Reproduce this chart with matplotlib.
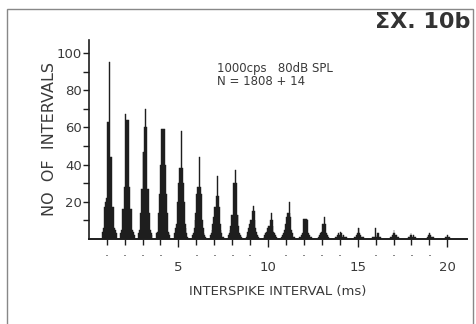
import matplotlib
matplotlib.use('Agg')
import matplotlib.pyplot as plt
import numpy as np
from matplotlib.patches import Rectangle
from matplotlib.ticker import FixedLocator, FixedFormatter

# interval histogram, 0.05 ms bins grouped around each period (1 ms)
periods = list(range(1, 21))
bin_offsets = [-0.25, -0.20, -0.15, -0.10, -0.05, 0.00, 0.05, 0.10,
               0.15, 0.20, 0.25, 0.30, 0.35, 0.40, 0.45, 0.50]
bin_width = 0.05

counts = [
    [4, 6, 17, 20, 22, 63, 63, 63, 95, 44, 44, 17, 17, 6, 5, 3],
    [3, 5, 16, 16, 28, 67, 64, 64, 64, 64, 28, 16, 16, 5, 4, 2],
    [3, 5, 14, 27, 27, 47, 47, 60, 70, 60, 27, 27, 14, 5, 3, 2],
    [3, 4, 14, 24, 24, 40, 59, 59, 59, 59, 40, 24, 14, 4, 3, 2],
    [3, 6, 8, 20, 20, 30, 38, 38, 58, 38, 30, 20, 8, 6, 3, 1],
    [2, 3, 6, 10, 14, 24, 28, 28, 44, 28, 24, 10, 6, 3, 2, 1],
    [2, 3, 5, 8, 12, 17, 17, 23, 34, 23, 17, 8, 5, 3, 1, 1],
    [2, 3, 5, 7, 13, 13, 30, 30, 37, 30, 13, 13, 7, 3, 2, 1],
    [1, 2, 4, 6, 8, 10, 10, 15, 18, 15, 10, 6, 4, 2, 1, 0],
    [1, 2, 3, 4, 6, 7, 7, 10, 14, 10, 7, 4, 3, 2, 1, 0],
    [1, 2, 3, 5, 8, 12, 14, 14, 20, 14, 12, 5, 3, 1, 1, 0],
    [1, 1, 2, 3, 11, 11, 11, 11, 11, 10, 3, 2, 1, 1, 0, 0],
    [0, 1, 2, 3, 4, 8, 8, 12, 8, 8, 3, 2, 1, 0, 0, 0],
    [1, 1, 2, 3, 2, 4, 3, 2, 1, 2, 1, 1, 1, 0, 0, 0],
    [0, 1, 1, 2, 3, 6, 6, 3, 2, 1, 1, 1, 0, 0, 0, 0],
    [0, 1, 1, 1, 6, 2, 1, 3, 3, 1, 1, 0, 0, 0, 0, 0],
    [0, 1, 1, 2, 3, 5, 3, 2, 2, 1, 1, 0, 0, 0, 0, 0],
    [0, 1, 1, 2, 3, 2, 1, 2, 1, 1, 0, 0, 0, 0, 0, 0],
    [0, 0, 1, 1, 2, 3, 2, 1, 1, 1, 0, 0, 0, 0, 0, 0],
    [0, 0, 0, 1, 1, 2, 1, 1, 0, 0, 0, 0, 0, 0, 0, 0],
]

y_major = [20, 40, 60, 80, 100]
y_minor = [10, 30, 50, 70, 90]
x_major = [5, 10, 15, 20]

title = 'ΣX. 10b'
note = '1000cps   80dB SPL\nN = 1808 + 14'
xlabel = 'INTERSPIKE INTERVAL (ms)'
ylabel = 'NO  OF  INTERVALS'

ink = '#1e1e1e'
txt = '#3a3a3a'

W, H = 477, 324
fig = plt.figure(figsize=(W / 100, H / 100), dpi=100)
ax = fig.add_axes([88.8 / W, 1 - 239 / H, (467 - 88.8) / W, (239 - 40) / H])

# bars
xs, hs = [], []
for p, row in zip(periods, counts):
    for off, c in zip(bin_offsets, row):
        if c > 0:
            xs.append(p + off)
            hs.append(c)
ax.bar(xs, hs, width=bin_width, align='edge', color=ink, edgecolor=ink,
       linewidth=0.3)

ax.set_xlim(0, 21.1)
ax.set_ylim(0, 107)

for s in ['top', 'right']:
    ax.spines[s].set_visible(False)
ax.spines['left'].set_color(ink)
ax.spines['bottom'].set_color(ink)
ax.spines['left'].set_linewidth(1.2)
ax.spines['bottom'].set_linewidth(1.4)

# y ticks
ax.yaxis.set_major_locator(FixedLocator(y_major))
ax.yaxis.set_minor_locator(FixedLocator(y_minor))
ax.tick_params(axis='y', which='both', direction='out', length=4, width=1,
               color=ink, labelsize=9.5, labelcolor=txt, pad=1)

# x ticks: numbers at multiples of 5, dots elsewhere
minor_x = [p for p in periods if p not in x_major]
ax.xaxis.set_major_locator(FixedLocator(x_major))
ax.xaxis.set_minor_locator(FixedLocator(minor_x))
ax.xaxis.set_minor_formatter(FixedFormatter(['·'] * len(minor_x)))
ax.tick_params(axis='x', which='major', direction='out', length=6, width=1,
               color=ink, labelsize=9.5, labelcolor=txt, pad=10)
ax.tick_params(axis='x', which='minor', direction='out', length=4, width=1,
               color=ink, labelsize=9, labelcolor=txt, pad=4)

ax.set_xlabel(xlabel, fontsize=9.5, color=txt, labelpad=8)
ax.set_ylabel(ylabel, fontsize=11.5, color=txt, labelpad=0)

ax.text(0.34, 0.89, note, transform=ax.transAxes, fontsize=8.5, color=txt,
        va='top', ha='left', linespacing=1.05)

fig.text(470 / W, 1 - 12 / H, title, fontsize=16, fontweight='bold',
         color='#333333', ha='right', va='top')

fig.patches.append(Rectangle((7 / W, -0.02), 466 / W, 1 - 9 / H + 0.02,
                             transform=fig.transFigure, fill=False,
                             edgecolor='#888888', linewidth=1))

fig.savefig('out.png', dpi=100, facecolor='white')
